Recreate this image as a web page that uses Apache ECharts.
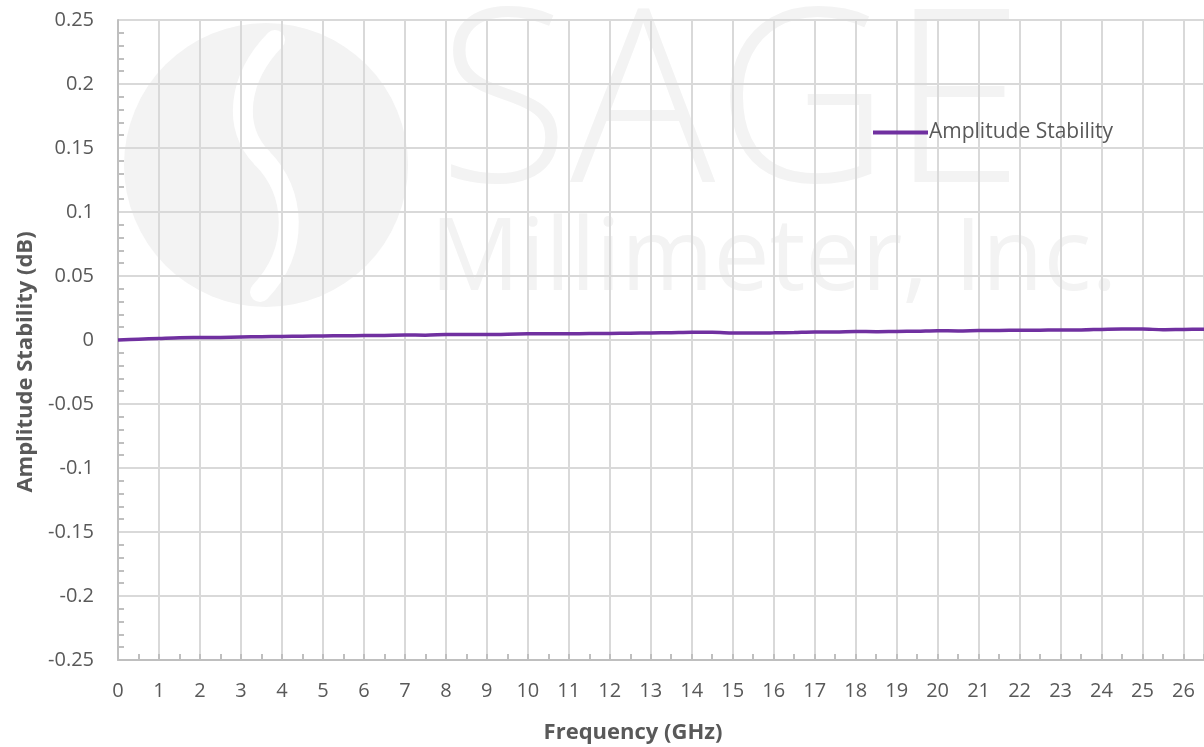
<!DOCTYPE html>
<html><head><meta charset="utf-8">
<script src="https://cdn.jsdelivr.net/npm/echarts@6/dist/echarts.min.js"></script>
<style>html,body{margin:0;padding:0;background:#fff}#c{width:1204px;height:747px}</style>
</head><body><div id="c"></div>
<script>
const freqGHz = [0,0.5,1,1.5,2,2.5,3,3.5,4,4.5,5,5.5,6,6.5,7,7.5,8,8.5,9,9.5,10,10.5,11,11.5,12,12.5,13,13.5,14,14.5,15,15.5,16,16.5,17,17.5,18,18.5,19,19.5,20,20.5,21,21.5,22,22.5,23,23.5,24,24.5,25,25.5,26,26.5];
const amplitudeStability = [0,0.0006,0.0012,0.0018,0.0019,0.002,0.0023,0.0026,0.0028,0.003,0.0032,0.0033,0.0035,0.0036,0.0039,0.0038,0.0042,0.0043,0.0042,0.0045,0.0048,0.0049,0.0049,0.005,0.0051,0.0053,0.0055,0.0057,0.006,0.006,0.0055,0.0054,0.0056,0.0059,0.0063,0.0063,0.0066,0.0065,0.0067,0.0068,0.0072,0.0071,0.0074,0.0075,0.0076,0.0077,0.0079,0.0079,0.0083,0.0085,0.0085,0.0081,0.0083,0.0084];
const seriesName = 'Amplitude Stability';
const xTitle = 'Frequency (GHz)';
const yTitle = 'Amplitude Stability (dB)';

const chart = echarts.init(document.getElementById('c'), null, {renderer:'canvas'});
const font = "'Open Sans', sans-serif";
const wm = '#f3f3f3';
chart.setOption({
  animation:false,
  backgroundColor:'#fff',
  graphic:[
    {type:'circle', z:-10, shape:{cx:266,cy:165,r:142}, style:{fill:wm}},
    {type:'bezierCurve', z:-9, shape:{x1:275,y1:40,cpx1:238,cpy1:78,cpx2:232,cpy2:128,x2:262,y2:158}, style:{fill:null, stroke:'#fff', lineWidth:20, lineCap:'round'}},
    {type:'bezierCurve', z:-9, shape:{x1:262,y1:158,cpx1:296,cpy1:192,cpx2:300,cpy2:250,x2:260,y2:292}, style:{fill:null, stroke:'#fff', lineWidth:20, lineCap:'round'}},
    {type:'text', z:-10, left:438, top:-8, style:{text:'SAGE', font:"200 242px 'Open Sans', sans-serif", fill:wm}},
    {type:'text', z:-10, left:430, top:212, style:{text:'Millimeter, Inc.', font:"400 100px 'Open Sans', sans-serif", fill:wm}}
  ],
  legend:{
    data:[{name:seriesName, icon:'rect'}], left:868, top:117, itemWidth:55, itemHeight:4, itemGap:4,
    textStyle:{fontFamily:font, fontSize:21, color:'#595959', padding:[0,0,0,-4]}
  },
  grid:{left:118, top:20, right:0, bottom:87, containLabel:false, outerBoundsMode:'none'},
  xAxis:{
    type:'value', min:0, max:26.5, interval:1,
    name:xTitle, nameLocation:'middle', nameGap:62,
    nameTextStyle:{fontFamily:font, fontSize:22, fontWeight:'bold', color:'#595959', padding:[0,56,0,0]},
    axisLine:{show:true, onZero:false, lineStyle:{color:'#bfbfbf', width:2}},
    axisTick:{show:true, inside:true, length:6, lineStyle:{color:'#bfbfbf', width:2}},
    minorTick:{show:true, splitNumber:2, length:6, lineStyle:{color:'#bfbfbf', width:2}},
    splitLine:{show:true, lineStyle:{color:'#d9d9d9', width:2}},
    axisLabel:{fontFamily:font, fontSize:20, color:'#595959', margin:21,
      formatter:v=> (Number.isInteger(v)? String(v):'')}
  },
  yAxis:{
    type:'value', min:-0.25, max:0.25, interval:0.05,
    name:yTitle, nameLocation:'middle', nameGap:81,
    nameTextStyle:{fontFamily:font, fontSize:22, fontWeight:'bold', color:'#595959', padding:[0,44,0,0]},
    axisLine:{show:true, lineStyle:{color:'#bfbfbf', width:2}},
    axisTick:{show:false, inside:true, length:6, lineStyle:{color:'#bfbfbf', width:2}},
    minorTick:{show:true, splitNumber:5, length:6, lineStyle:{color:'#bfbfbf', width:2}},
    splitLine:{show:true, lineStyle:{color:'#d9d9d9', width:2}},
    axisLabel:{fontFamily:font, fontSize:20, color:'#595959', margin:24,
      formatter:v=>{const r=Math.round(v*100)/100; return String(r);}}
  },
  series:[{
    name:seriesName, type:'line', data:freqGHz.map((f,i)=>[f,amplitudeStability[i]]),
    showSymbol:false, symbol:'none', smooth:0.3,
    lineStyle:{color:'#7030A0', width:3.5}, itemStyle:{color:'#7030A0'}
  }]
});
</script></body></html>
